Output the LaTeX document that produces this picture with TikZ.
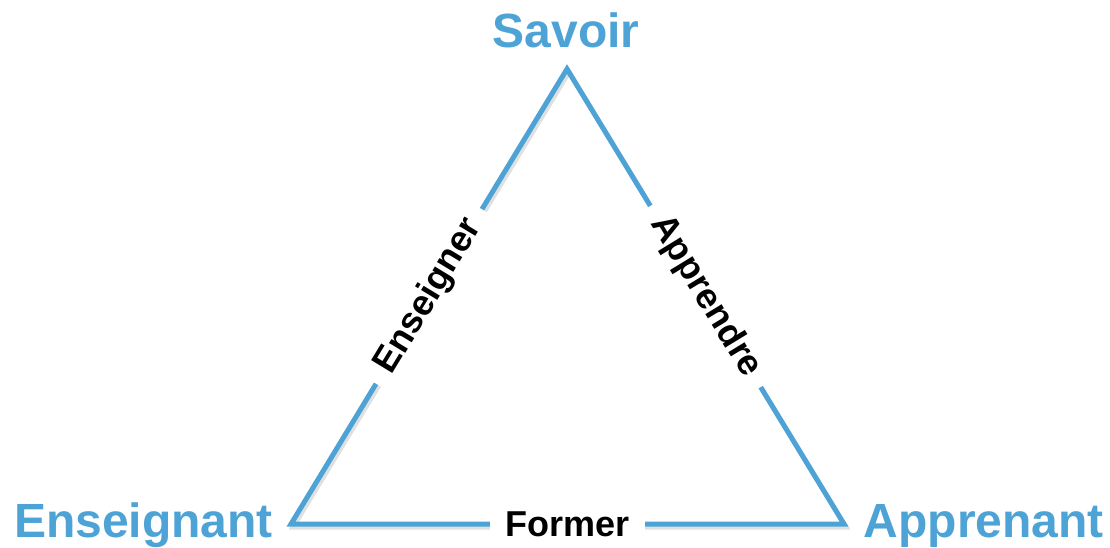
\documentclass[tikz,border=0pt]{standalone}
\usepackage{fontspec}
\setmainfont{Liberation Sans}
\usepackage{xcolor}
\usepackage{tikz}
\usetikzlibrary{positioning, calc}

\definecolor{pole}{RGB}{77,163,213}

\begin{document}
\begin{tikzpicture}[x=1pt, y=-1pt,
    side/.style={draw=pole, line width=5pt, line join=miter},
    polename/.style={text=pole, font=\fontsize{48}{56}\selectfont\bfseries, inner sep=0pt},
    action/.style={fill=white, sloped, font=\fontsize{36}{42}\selectfont\bfseries, inner xsep=15pt, inner ysep=2pt}]
    \useasboundingbox (0,0) rectangle (1110,547);

    % sommets du triangle
    \coordinate (savoir) at (567,69);
    \coordinate (ens) at (291,524);
    \coordinate (app) at (844,524);

    % ombre
    \draw [line width=5pt, black!12, line join=miter] ($(ens)+(2,3)$) -- ($(savoir)+(2,3)$) -- ($(app)+(2,3)$) -- cycle;

    \draw [side] (ens) -- node[action] (enseigner) {Enseigner} (savoir)
        -- node[action] (apprendre) {Apprendre} (app)
        -- node[action] (former) {Former} cycle;

    \node (tsavoir) [polename, anchor=base] at (566,47) {Savoir};
    \node (tens) [polename, anchor=base west] at (14,537) {Enseignant};
    \node (tapp) [polename, anchor=base east] at (1104,537) {Apprenant};
\end{tikzpicture}
\end{document}
